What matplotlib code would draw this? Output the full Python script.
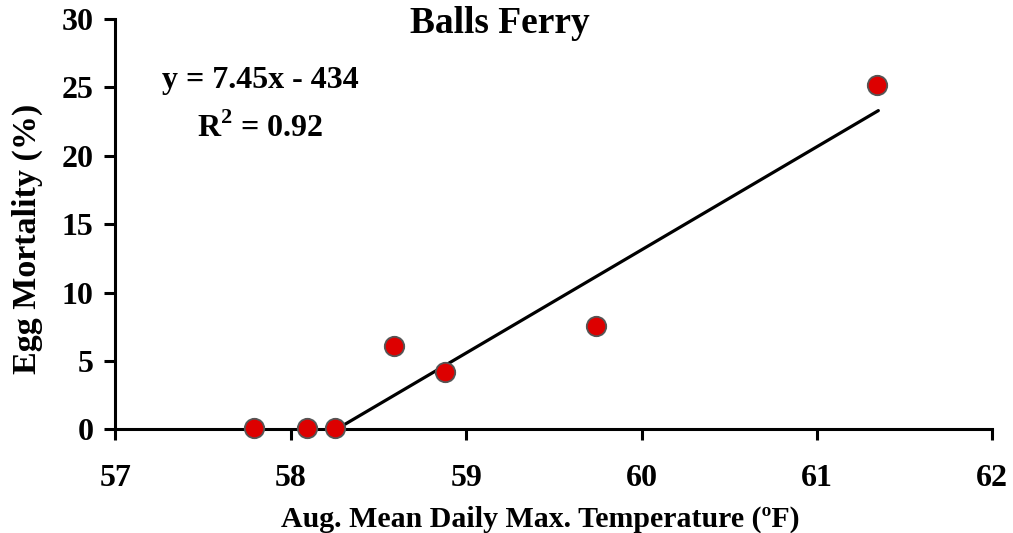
import matplotlib
matplotlib.use("Agg")
import matplotlib.pyplot as plt

# Data
temp_f = [57.79, 58.09, 58.25, 58.59, 58.88, 59.74, 61.34]
mortality = [0.1, 0.1, 0.1, 6.1, 4.2, 7.55, 25.15]
fit_x = [58.26, 61.35]
fit_y = [0.0, 23.3]
x_ticks = [57, 58, 59, 60, 61, 62]
y_ticks = [0, 5, 10, 15, 20, 25, 30]
title = "Balls Ferry"
xlabel = "Aug. Mean Daily Max. Temperature (ºF)"
ylabel = "Egg Mortality (%)"
eq_text = "y = 7.45x - 434"
r2_text = "R$^{\\mathbf{2}}$ = 0.92"

plt.rcParams['font.family'] = ['Liberation Serif', 'DejaVu Serif']
plt.rcParams['font.weight'] = 'bold'
plt.rcParams['mathtext.fontset'] = 'custom'
plt.rcParams['mathtext.rm'] = 'Liberation Serif:bold'
plt.rcParams['mathtext.bf'] = 'Liberation Serif:bold'

fig = plt.figure(figsize=(10.13, 5.33), dpi=100)
ax = fig.add_axes([0.114, 0.1946, 0.9796 - 0.114, 0.9644 - 0.1946])

ax.plot(fit_x, fit_y, color='black', lw=2.3, zorder=2, solid_capstyle='round')
ax.plot(temp_f, mortality, 'o', ms=14, mfc='#dd0000', mec='#555555', mew=1.3,
        zorder=3, clip_on=False)

ax.set_xlim(57, 62)
ax.set_ylim(0, 30)
ax.set_xticks(x_ticks)
ax.set_yticks(y_ticks)
for s in ['top', 'right']:
    ax.spines[s].set_visible(False)
for s in ['left', 'bottom']:
    ax.spines[s].set_linewidth(2.2)
ax.tick_params(axis='both', width=2.2, length=8, labelsize=23)
ax.tick_params(axis='y', pad=8)
ax.tick_params(axis='x', pad=17)
for lab in ax.get_xticklabels() + ax.get_yticklabels():
    lab.set_fontweight('bold')

fig.text(500 / 1013, 1 - 33 / 533, title, ha='center', va='baseline',
         fontsize=27, fontweight='bold')
fig.text(260 / 1013, 1 - 88 / 533, eq_text, ha='center', va='baseline',
         fontsize=23, fontweight='bold')
fig.text(260 / 1013, 1 - 137 / 533, r2_text, ha='center', va='baseline',
         fontsize=23, fontweight='bold')
fig.text(540 / 1013, 1 - 527 / 533, xlabel, ha='center', va='baseline',
         fontsize=21.5, fontweight='bold')
fig.text(27 / 1013, 1 - 239 / 533, ylabel, ha='center', va='center',
         fontsize=24.5, fontweight='bold', rotation=90)

fig.savefig('out.png', dpi=100)
